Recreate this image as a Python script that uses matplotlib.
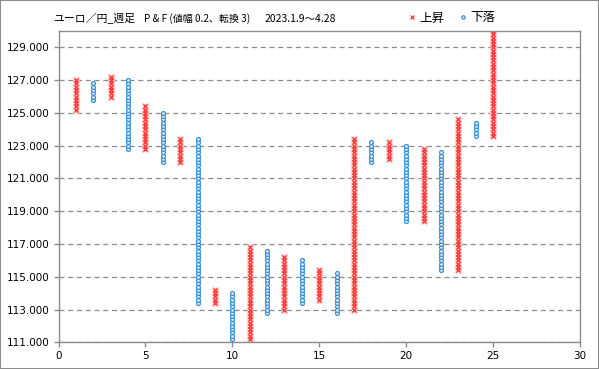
import numpy as np
import matplotlib.pyplot as plt
from matplotlib.lines import Line2D
from matplotlib.patches import Rectangle

plt.rcParams['font.family'] = ['Noto Sans CJK JP', 'DejaVu Sans']

# P&F columns (値幅 0.2, 転換 3): column number, type, low, high
columns = list(range(1, 26))
kinds = ['X', 'O'] * 12 + ['X']
lows = [125.2, 125.8, 126.0, 122.8, 122.8, 122.0, 122.0, 113.4, 113.4, 111.2,
        111.2, 112.8, 113.0, 113.4, 113.6, 112.8, 113.0, 122.0, 122.2, 118.4,
        118.4, 115.4, 115.4, 123.6, 123.6]
highs = [127.0, 126.8, 127.2, 127.0, 125.4, 125.0, 123.4, 123.4, 114.2, 114.0,
         116.8, 116.6, 116.2, 116.0, 115.4, 115.2, 123.4, 123.2, 123.2, 123.0,
         122.8, 122.6, 124.6, 124.4, 130.0]
box = 0.2

yticks = [111, 113, 115, 117, 119, 121, 123, 125, 127, 129]
xticks = [0, 5, 10, 15, 20, 25, 30]

red = '#ff3333'
blue = '#3a8fd6'
grey = '#8c8c8c'

fig = plt.figure(figsize=(5.99, 3.69), dpi=100)
ax = fig.add_axes([58.5 / 599, 26.7 / 369, (580 - 58.5) / 599, (342.3 - 31) / 369])

up_x, up_y, dn_x, dn_y = [], [], [], []
for c, k, lo, hi in zip(columns, kinds, lows, highs):
    n = int(round((hi - lo) / box)) + 1
    vals = lo + box * np.arange(n)
    if k == 'X':
        up_x += [c] * n
        up_y += list(vals)
    else:
        dn_x += [c] * n
        dn_y += list(vals)

# X columns: pink halo under red crosses
ax.plot(up_x, up_y, 'x', color='#ffc4c4', ms=3.8, mew=1.8, ls='none')
ax.plot(up_x, up_y, 'x', color=red, ms=3.4, mew=0.9, ls='none')
ax.plot(dn_x, dn_y, 'o', mfc='#e8f2fb', mec=blue, ms=2.8, mew=0.9, ls='none')

ax.set_xlim(0, 30)
ax.set_ylim(111, 130)
ax.set_xticks(xticks)
ax.set_yticks(yticks)
ax.set_yticklabels([f'{v:.3f}' for v in yticks], family='DejaVu Sans')
ax.set_xticklabels([str(v) for v in xticks], family='DejaVu Sans')
ax.tick_params(labelsize=7.5, colors=grey, labelcolor='black', length=3.5, width=1, pad=3)
ax.grid(axis='y', color=grey, ls=(0, (4, 3)), lw=0.9)
ax.set_axisbelow(True)
for s in ax.spines.values():
    s.set_color(grey)
    s.set_linewidth(1)

# title
fig.text(53 / 599, 1 - 19 / 369, 'ユーロ／円_週足', fontsize=7.8, va='center', ha='left')
fig.text(144 / 599, 1 - 19 / 369, 'P & F (値幅 0.2、転換 3)', fontsize=7.2, va='center', ha='left')
fig.text(265 / 599, 1 - 19 / 369, '2023.1.9～4.28', fontsize=7.5, va='center', ha='left')

handles = [Line2D([], [], marker='x', color=red, ms=3.4, mew=0.9, ls='none'),
           Line2D([], [], marker='o', mfc='#e8f2fb', mec=blue, ms=2.4, mew=0.9, ls='none')]
fig.legend(handles, ['上昇', '下落'], ncol=2, frameon=False, fontsize=9,
           loc='center', bbox_to_anchor=(452 / 599, 1 - 18 / 369),
           handlelength=0.6, handletextpad=0.3, columnspacing=1.2)

fig.patches.append(Rectangle((0, 0), 1, 1, transform=fig.transFigure, fill=False,
                             ec=grey, lw=1.5))

fig.savefig('out.png', dpi=100)
